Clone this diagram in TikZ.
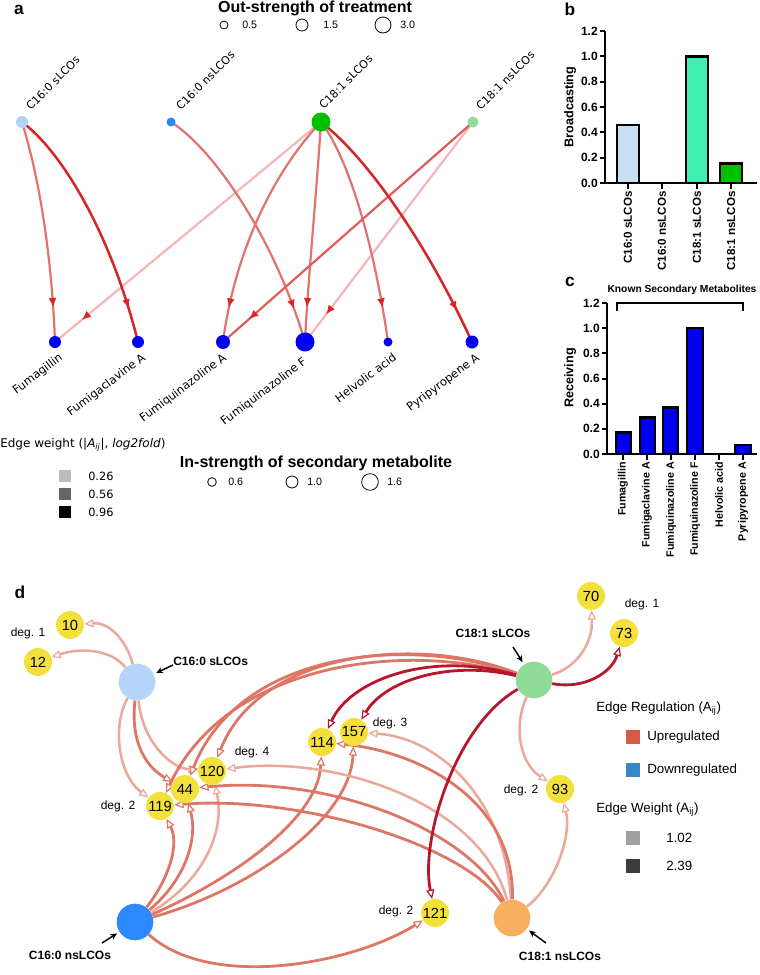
\documentclass[tikz,border=0pt]{standalone}
\usepackage{fontspec}
\setmainfont{Liberation Sans}
\newfontfamily\dv{DejaVu Sans}
\usetikzlibrary{arrows.meta,decorations.markings}
\pgfdeclarelayer{edges}
\pgfsetlayers{edges,main}
\definecolor{aStrong}{RGB}{214,39,40}
\definecolor{aMed}{RGB}{228,112,112}
\definecolor{aMedD}{RGB}{222,92,92}
\definecolor{aLight}{RGB}{244,182,182}
\definecolor{cSA}{RGB}{179,212,248}
\definecolor{cNSA}{RGB}{46,134,240}
\definecolor{cSB}{RGB}{0,190,0}
\definecolor{cNSB}{RGB}{143,220,150}
\definecolor{mBlue}{RGB}{0,0,240}
\definecolor{bA}{RGB}{200,222,245}
\definecolor{bC}{RGB}{64,240,176}
\definecolor{bD}{RGB}{0,192,0}
\definecolor{dYel}{RGB}{243,224,58}
\definecolor{dS16}{RGB}{180,212,250}
\definecolor{dN16}{RGB}{45,137,255}
\definecolor{dS18}{RGB}{144,218,152}
\definecolor{dN18}{RGB}{248,176,96}
\definecolor{dLight}{RGB}{236,168,155}
\definecolor{dMed}{RGB}{222,118,102}
\definecolor{dCrim}{RGB}{184,22,45}
\definecolor{legUp}{RGB}{212,90,74}
\definecolor{legDown}{RGB}{58,135,200}
\definecolor{legW1}{RGB}{160,160,160}
\definecolor{legW2}{RGB}{60,60,60}
\tikzset{
  dot/.style={circle, inner sep=0pt, outer sep=0pt},
  legc/.style={circle, draw=black, line width=0.6pt, inner sep=0pt},
  ttl/.style={font=\bfseries\fontsize{12}{14}\selectfont},
  leglab/.style={font=\fontsize{8}{10}\selectfont, anchor=west, inner sep=0pt},
  trlab/.style={font=\dv\fontsize{8.3}{10}\selectfont, rotate=45, anchor=south west, inner sep=0pt},
  mblab/.style={font=\dv\fontsize{8.6}{10}\selectfont, rotate=37, anchor=north east, inner sep=0pt},
  panel/.style={font=\bfseries\fontsize{13}{15}\selectfont},
  aedge/.style={line width=1.65pt, postaction={decorate},
    decoration={markings, mark=at position -26pt with {\arrow[color=aStrong]{Latex[length=7pt,width=6pt]}}}},
  axisln/.style={line width=1.5pt, draw=black},
  barst/.style={draw=black, line width=1.8pt},
  ticklab/.style={font=\bfseries\fontsize{9}{10}\selectfont, anchor=east, inner sep=0pt},
  xlab/.style={font=\bfseries\fontsize{8.7}{10}\selectfont, rotate=90, anchor=east, inner sep=0pt},
  xlabc/.style={font=\bfseries\fontsize{8}{10}\selectfont, rotate=90, anchor=east, inner sep=0pt},
  ynode/.style={circle, fill=dYel, inner sep=0pt, minimum size=21pt, font=\fontsize{11}{12}\selectfont},
  bignode/.style={circle, inner sep=0pt, minimum size=27.5pt},
  dtip/.style={-{Triangle[length=7pt,width=6pt,fill=white,line width=0.9pt]}},
  dl/.style={draw=dLight, line width=1.9pt, dtip},
  dm/.style={draw=dMed, line width=2.1pt, dtip},
  dc/.style={draw=dCrim, line width=2.1pt, dtip},
  deglab/.style={font=\fontsize{9}{10}\selectfont, inner sep=0pt},
  dlab/.style={font=\bfseries\fontsize{9}{10}\selectfont, inner sep=0pt},
  parr/.style={line width=1.1pt, -{Stealth[length=5pt,width=4.5pt]}, shorten >=2pt},
  legtxt/.style={font=\fontsize{10}{12}\selectfont, anchor=west, inner sep=0pt},
}
\begin{document}
\begin{tikzpicture}[x=0.75pt,y=-0.75pt]
\useasboundingbox (0,0) rectangle (760,975);
%%%%%%%%%%%%%%%% panel a
\node[panel] (la) at (19,10) {a};
\node[ttl] (tout) at (315,8.5) {Out-strength of treatment};
\node[legc, minimum size=6pt] (oc1) at (224,25) {};
\node[leglab] (ot1) at (242,25) {0.5};
\node[legc, minimum size=9pt] (oc2) at (302,25) {};
\node[leglab] (ot2) at (323,25) {1.5};
\node[legc, minimum size=12pt] (oc3) at (383,25) {};
\node[leglab] (ot3) at (400,25) {3.0};

\node[dot, fill=cSA, minimum size=9pt] (sA) at (22,122) {};
\node[dot, fill=cNSA, minimum size=6.75pt] (nsA) at (171,122) {};
\node[dot, fill=cSB, minimum size=14.25pt] (sB) at (321,122) {};
\node[dot, fill=cNSB, minimum size=8.25pt] (nsB) at (473,122) {};
\node[trlab] (tsA) at (31,111) {C16:0 sLCOs};
\node[trlab] (tnsA) at (181,111) {C16:0 nsLCOs};
\node[trlab] (tsB) at (324,110) {C18:1 sLCOs};
\node[trlab] (tnsB) at (481,111) {C18:1 nsLCOs};

\node[dot, fill=mBlue, minimum size=9pt] (fum) at (55,342) {};
\node[dot, fill=mBlue, minimum size=9pt] (fcl) at (138,342) {};
\node[dot, fill=mBlue, minimum size=10.5pt] (fqa) at (223,342) {};
\node[dot, fill=mBlue, minimum size=14.25pt] (fqf) at (305,342) {};
\node[dot, fill=mBlue, minimum size=6.75pt] (hel) at (388,342) {};
\node[dot, fill=mBlue, minimum size=9.75pt] (pyr) at (472,342) {};
\node[mblab] (tfum) at (58,352) {Fumagillin};
\node[mblab] (tfcl) at (141,352) {Fumigaclavine A};
\node[mblab] (tfqa) at (222,352) {Fumiquinazoline A};
\node[mblab] (tfqf) at (302,356) {Fumiquinazoline F};
\node[mblab] (thel) at (392,352) {Helvolic acid};
\node[mblab] (tpyr) at (475,352) {Pyripyropene A};

\begin{pgfonlayer}{edges}
\draw[aedge, draw=aLight] (sB.center) -- (fum.center);
\draw[aedge, draw=aLight] (nsB.center) -- (fqf.center);
\draw[aedge, draw=aMed] (sA.center) .. controls (40,180) and (52,260) .. (fum.center);
\draw[aedge, draw=aMed] (nsA.center) .. controls (215,150) and (275,240) .. (fqf.center);
\draw[aedge, draw=aMed] (sB.center) .. controls (275,170) and (235,250) .. (fqa.center);
\draw[aedge, draw=aMed] (sB.center) .. controls (316,200) and (308,280) .. (fqf.center);
\draw[aedge, draw=aMed] (sB.center) .. controls (350,160) and (375,250) .. (hel.center);
\draw[aedge, draw=aMedD] (nsB.center) -- (fqa.center);
\draw[aedge, draw=aStrong, line width=1.9pt] (sA.center) .. controls (60,150) and (110,230) .. (fcl.center);
\draw[aedge, draw=aStrong, line width=1.9pt] (sB.center) .. controls (370,160) and (430,250) .. (pyr.center);
\end{pgfonlayer}

\node[font=\dv\fontsize{9}{11}\selectfont, anchor=west, inner sep=0pt] (ewt) at (0,445)
  {Edge weight (|\textit{A}\textsubscript{\textit{ij}}|, \textit{log2fold})};
\node[fill={rgb,255:red,187;green,187;blue,187}, minimum size=9.5pt, inner sep=0pt] (ew1) at (65,476) {};
\node[fill={rgb,255:red,102;green,102;blue,102}, minimum size=9.5pt, inner sep=0pt] (ew2) at (65,494) {};
\node[fill=black, minimum size=9.5pt, inner sep=0pt] (ew3) at (65,512) {};
\node[font=\dv\fontsize{8.5}{10}\selectfont, anchor=west, inner sep=0pt] (ewl1) at (88,476) {0.26};
\node[font=\dv\fontsize{8.5}{10}\selectfont, anchor=west, inner sep=0pt] (ewl2) at (88,494) {0.56};
\node[font=\dv\fontsize{8.5}{10}\selectfont, anchor=west, inner sep=0pt] (ewl3) at (88,512) {0.96};

\node[ttl] (tin) at (316,463) {In-strength of secondary metabolite};
\node[legc, minimum size=6.5pt] (ic1) at (212,482) {};
\node[leglab] (it1) at (228,482) {0.6};
\node[legc, minimum size=9pt] (ic2) at (292,482) {};
\node[leglab] (it2) at (307,482) {1.0};
\node[legc, minimum size=12.5pt] (ic3) at (370,482) {};
\node[leglab] (it3) at (387,482) {1.6};

%%%%%%%%%%%%%%%% panel b
\node[panel] (lb) at (570,9) {b};
\draw[barst, fill=bA] (617,183) rectangle (639,124.7);
\draw[barst, fill=bC] (686,183) rectangle (708,56.3);
\draw[barst, fill=bD] (720,183) rectangle (742,163.4);
\draw[axisln] (605,31) -- (605,183) -- (757,183);
\foreach \v/\t in {0/0.0,0.2/0.2,0.4/0.4,0.6/0.6,0.8/0.8,1.0/1.0,1.2/1.2}{
  \draw[axisln] (600,{183-\v*126.7}) -- (605,{183-\v*126.7});
  \node[ticklab] at (598,{183-\v*126.7}) {\t};
}
\foreach \x in {628,662,697,731}{ \draw[axisln] (\x,183) -- (\x,189); }
\node[xlab] (xb1) at (628,191) {C16:0 sLCOs};
\node[xlab] (xb2) at (662,191) {C16:0 nsLCOs};
\node[xlab] (xb3) at (697,191) {C18:1 sLCOs};
\node[xlab] (xb4) at (731,191) {C18:1 nsLCOs};
\node[font=\bfseries\fontsize{9.5}{11}\selectfont, rotate=90] (yb) at (570,107) {Broadcasting};

%%%%%%%%%%%%%%%% panel c
\node[panel] (lc) at (570,282) {c};
\node[font=\bfseries\fontsize{7.7}{9}\selectfont] (ksm) at (682,290) {Known Secondary Metabolites};
\draw[line width=1.5pt] (617,311) -- (617,303) -- (743,303) -- (743,311);
\draw[barst, fill=mBlue] (616,454) rectangle (631,432.6);
\draw[barst, fill=mBlue] (640,454) rectangle (655,417.5);
\draw[barst, fill=mBlue] (663,454) rectangle (678,407.5);
\draw[barst, fill=mBlue] (687,454) rectangle (703,328.2);
\draw[barst, fill=mBlue] (735,454) rectangle (751,445.2);
\draw[axisln] (607,303) -- (607,454) -- (757,454);
\foreach \v/\t in {0/0.0,0.2/0.2,0.4/0.4,0.6/0.6,0.8/0.8,1.0/1.0,1.2/1.2}{
  \draw[axisln] (602,{454-\v*125.8}) -- (607,{454-\v*125.8});
  \node[ticklab] at (600,{454-\v*125.8}) {\t};
}
\foreach \x in {623,647,671,695,719,743}{ \draw[axisln] (\x,454) -- (\x,460); }
\node[xlabc] (xc1) at (623,462) {Fumagillin};
\node[xlabc] (xc2) at (647,462) {Fumigaclavine A};
\node[xlabc] (xc3) at (671,462) {Fumiquinazoline A};
\node[xlabc] (xc4) at (695,462) {Fumiquinazoline F};
\node[xlabc] (xc5) at (719,462) {Helvolic acid};
\node[xlabc] (xc6) at (743,462) {Pyripyropene A};
\node[font=\bfseries\fontsize{9.5}{11}\selectfont, rotate=90] (yc) at (570,378) {Receiving};

%%%%%%%%%%%%%%%% panel d
\node[panel] (ld) at (20,592) {d};
\node[bignode, fill=dS16] (S16) at (137,682) {};
\node[bignode, fill=dN16] (N16) at (135,922) {};
\node[bignode, fill=dS18] (S18) at (534,680) {};
\node[bignode, fill=dN18] (N18) at (512,918) {};
\node[ynode] (n10) at (70,625) {10};
\node[ynode] (n12) at (38,662) {12};
\node[ynode] (n119) at (160,806) {119};
\node[ynode] (n44) at (185,789) {44};
\node[ynode] (n120) at (212,771) {120};
\node[ynode] (n114) at (322,742) {114};
\node[ynode] (n157) at (354,732) {157};
\node[ynode] (n70) at (591,596) {70};
\node[ynode] (n73) at (624,633) {73};
\node[ynode] (n93) at (560,789) {93};
\node[ynode] (n121) at (435,913) {121};

\node[deglab] (g1) at (28,633) {deg. 1};
\node[deglab] (g2) at (252,752) {deg. 4};
\node[deglab] (g3) at (118,806) {deg. 2};
\node[deglab] (g4) at (390,723) {deg. 3};
\node[deglab] (g5) at (642,604) {deg. 1};
\node[deglab] (g6) at (521,790) {deg. 2};
\node[deglab] (g7) at (396,911) {deg. 2};

\node[dlab, anchor=west] (lS16) at (173,661) {C16:0 sLCOs};
\node[dlab] (lS18) at (493,633) {C18:1 sLCOs};
\node[dlab] (lN18) at (560,956) {C18:1 nsLCOs};
\node[dlab] (lN16) at (70,955) {C16:0 nsLCOs};
\coordinate (aS16) at (173,665);
\coordinate (aS18) at (513,647);
\coordinate (aN18) at (546,943);
\coordinate (aN16) at (102,943);
\draw[parr] (aS16) -- (S16);
\draw[parr] (aS18) -- (S18);
\draw[parr] (aN18) -- (N18);
\draw[parr] (aN16) -- (N16);

\begin{pgfonlayer}{edges}
% from C16:0 sLCOs
\draw[dl] (S16) .. controls (128,645) and (112,622) .. (n10);
\draw[dl] (S16) .. controls (110,648) and (78,648) .. (n12);
\draw[dl] (S16) .. controls (112,725) and (118,775) .. (n119);
\draw[dm] (S16) .. controls (130,745) and (148,768) .. (n44);
\draw[dl] (S16) .. controls (142,740) and (170,768) .. (n120);
% from C16:0 nsLCOs
\draw[dm] (N16) .. controls (168,880) and (180,845) .. (n119);
\draw[dm] (N16) .. controls (185,880) and (198,840) .. (n44);
\draw[dl] (N16) .. controls (205,880) and (225,830) .. (n120);
\draw[dm] (N16) .. controls (230,880) and (318,820) .. (n114);
\draw[dm] (N16) .. controls (250,890) and (350,820) .. (n157);
\draw[dm] (N16) .. controls (210,990) and (350,965) .. (n121);
% from C18:1 nsLCOs
\draw[dl] (N18) .. controls (555,885) and (572,835) .. (n93);
\draw[dl] (N18) .. controls (505,800) and (440,738) .. (n157);
\draw[dm] (N18) .. controls (515,800) and (420,752) .. (n114);
\draw[dl] (N18) .. controls (480,800) and (330,755) .. (n120);
\draw[dm] (N18) .. controls (470,830) and (330,775) .. (n44);
\draw[dm] (N18) .. controls (465,845) and (300,795) .. (n119);
% from C18:1 sLCOs
\draw[dl] (S18) .. controls (575,668) and (593,645) .. (n70);
\draw[dl] (S18) .. controls (512,730) and (522,765) .. (n93);
\draw[dm] (S18) .. controls (420,635) and (260,650) .. (n120);
\draw[dm] (S18) .. controls (410,635) and (240,650) .. (n44);
\draw[dm] (S18) .. controls (400,640) and (225,665) .. (n119);
\draw[dc] (S18) .. controls (585,690) and (612,672) .. (n73);
\draw[dc] (S18) .. controls (455,725) and (420,840) .. (n121);
\draw[dc] (S18) .. controls (430,650) and (350,680) .. (n114);
\draw[dc] (S18) .. controls (450,660) and (385,680) .. (n157);
\end{pgfonlayer}

% legend d
\node[legtxt] (ler) at (596,709) {Edge Regulation (A\textsubscript{ij})};
\node[fill=legUp, minimum size=10.5pt, inner sep=0pt] (squp) at (633,737) {};
\node[legtxt] (tup) at (647,737) {Upregulated};
\node[fill=legDown, minimum size=10.5pt, inner sep=0pt] (sqdn) at (633,770) {};
\node[legtxt] (tdn) at (647,770) {Downregulated};
\node[legtxt] (lew) at (596,810) {Edge Weight (A\textsubscript{ij})};
\node[fill=legW1, minimum size=10.5pt, inner sep=0pt] (sqw1) at (633,838) {};
\node[legtxt] (tw1) at (666,838) {1.02};
\node[fill=legW2, minimum size=10.5pt, inner sep=0pt] (sqw2) at (633,866) {};
\node[legtxt] (tw2) at (666,866) {2.39};
\end{tikzpicture}
\end{document}
